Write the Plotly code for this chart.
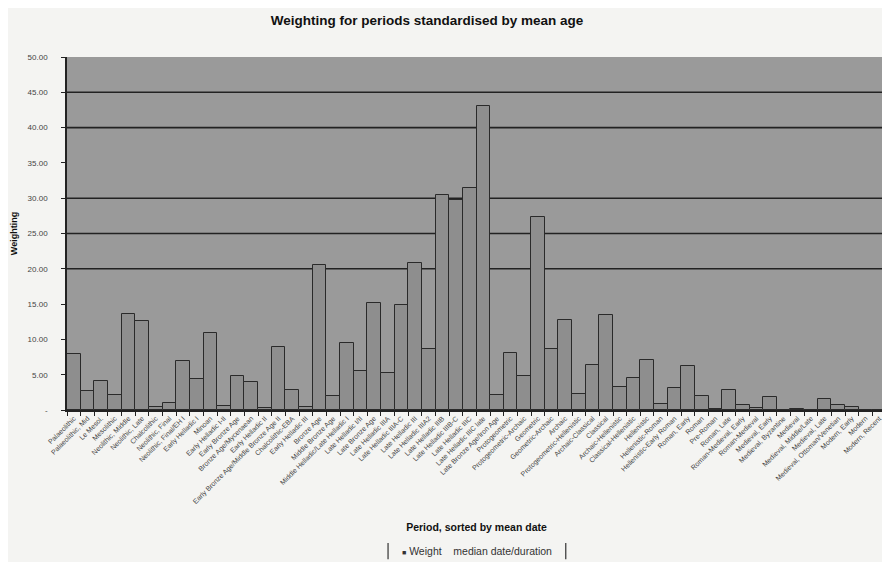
import plotly.graph_objects as go

periods = [
    "Palaeolithic", "Palaeolithic, Mid", "Le Mesol.", "Mesolithic", "Neolithic, Middle",
    "Neolithic, Late", "Chalcolithic", "Neolithic, Final", "Neolithic, Final/EH I", "Early Helladic I",
    "Minoan", "Early Helladic I-II", "Early Bronze Age", "Bronze Age/Mycenaean", "Early Helladic II",
    "Early Bronze Age/Middle Bronze Age II", "Chalcolithic-EBA", "Early Helladic III", "Bronze Age", "Middle Bronze Age",
    "Middle Helladic/Late Helladic I", "Late Helladic I/II", "Late Bronze Age", "Late Helladic IIIA", "Late Helladic IIIA-C",
    "Late Helladic III", "Late Helladic IIIA2", "Late Helladic IIIB", "Late Helladic IIIB-C", "Late Helladic IIIC",
    "Late Helladic IIIC late", "Late Bronze Age/Iron Age", "Protogeometric", "Protogeometric-Archaic", "Geometric",
    "Geometric-Archaic", "Archaic", "Protogeometric-Hellenistic", "Archaic-Classical", "Classical",
    "Archaic-Hellenistic", "Classical-Hellenistic", "Hellenistic", "Hellenistic-Roman", "Hellenistic-Early Roman",
    "Roman, Early", "Roman", "Pre-Roman", "Roman, Late", "Roman-Medieval, Early",
    "Roman-Medieval", "Medieval, Early", "Medieval, Byzantine", "Medieval", "Medieval, Middle/Late",
    "Medieval, Late", "Medieval, Ottoman/Venetian", "Modern, Early", "Modern", "Modern, Recent",
]

weight = [
    7.9, 2.7, 4.15, 2.1, 13.55, 12.6, 0.4, 0.95, 7.0, 4.35,
    10.95, 0.5, 4.8, 3.9, 0.3, 8.95, 2.8, 0.4, 20.6, 2.0,
    9.45, 5.5, 15.1, 5.3, 14.9, 20.8, 8.6, 30.45, 29.75, 31.4,
    43.05, 2.1, 8.1, 4.8, 27.4, 8.6, 12.75, 2.25, 6.4, 13.45,
    3.3, 4.6, 7.1, 0.85, 3.15, 6.3, 2.05, 0.1, 2.9, 0.7,
    0.25, 1.8, 0.05, 0.15, 0.05, 1.6, 0.7, 0.4, 0.05, 0.05,
]

y_tickvals = [0, 5, 10, 15, 20, 25, 30, 35, 40, 45, 50]
y_ticktext = ["-", "5.00", "10.00", "15.00", "20.00", "25.00", "30.00", "35.00", "40.00", "45.00", "50.00"]
grid_levels = [20, 25, 30, 40, 45]

series_names = ["Weight", "median date/duration"]

font_family = "Liberation Sans, Arial, sans-serif"

fig = go.Figure()
fig.add_trace(go.Bar(
    x=periods, y=weight, name=series_names[0],
    marker=dict(color="#8e8e8e", line=dict(color="#2a2a2a", width=1)),
    width=1.0, showlegend=False,
))

for g in grid_levels:
    fig.add_shape(type="line", xref="paper", x0=0, x1=1, yref="y", y0=g, y1=g,
                  line=dict(color="#222222", width=1.6), layer="below")

# compact legend (as in the reference)
fig.add_annotation(
    xref="paper", yref="paper", x=0.5, y=-0.4, xanchor="center", yanchor="middle",
    text="<span style='font-size:7px'>■</span> " + series_names[0]
         + "&nbsp;&nbsp;&nbsp;&nbsp;" + series_names[1],
    showarrow=False, font=dict(family=font_family, size=10.5, color="#333333"),
)
for xb in (0.392, 0.609):
    fig.add_shape(type="line", xref="paper", yref="paper", x0=xb, x1=xb,
                  y0=-0.377, y1=-0.423, line=dict(color="#333333", width=1.2))

fig.update_layout(
    width=882, height=554,
    margin=dict(l=59, r=4, t=49, b=152),
    paper_bgcolor="#f4f4f2",
    plot_bgcolor="#9a9a9a",
    bargap=0,
    showlegend=False,
    title=dict(text="<b>Weighting for periods standardised by mean age</b>",
               x=0.475, xanchor="center", y=0.978, yanchor="middle",
               font=dict(family=font_family, size=13.5, color="#111111")),
    font=dict(family=font_family, color="#333333"),
)
fig.update_xaxes(
    type="category", tickangle=-45, tickfont=dict(size=7, color="#444444"),
    showline=True, linecolor="#222222", linewidth=1.5,
    ticks="outside", tickson="boundaries", ticklen=4, tickcolor="#222222",
    showgrid=False, range=[-0.5, len(periods) - 0.5],
    title=dict(text="<b>Period, sorted by mean date</b>", standoff=19,
               font=dict(size=10.5, color="#111111")),
)
fig.update_yaxes(
    range=[0, 50], tickvals=y_tickvals, ticktext=y_ticktext,
    tickfont=dict(size=8, color="#444444"),
    showline=True, linecolor="#222222", linewidth=1.5,
    ticks="outside", ticklen=4, tickcolor="#222222", ticklabelstandoff=12,
    showgrid=False, zeroline=False,
    title=dict(text="<b>Weighting</b>", standoff=8, font=dict(size=9, color="#111111")),
)

fig.write_html("out.html")
